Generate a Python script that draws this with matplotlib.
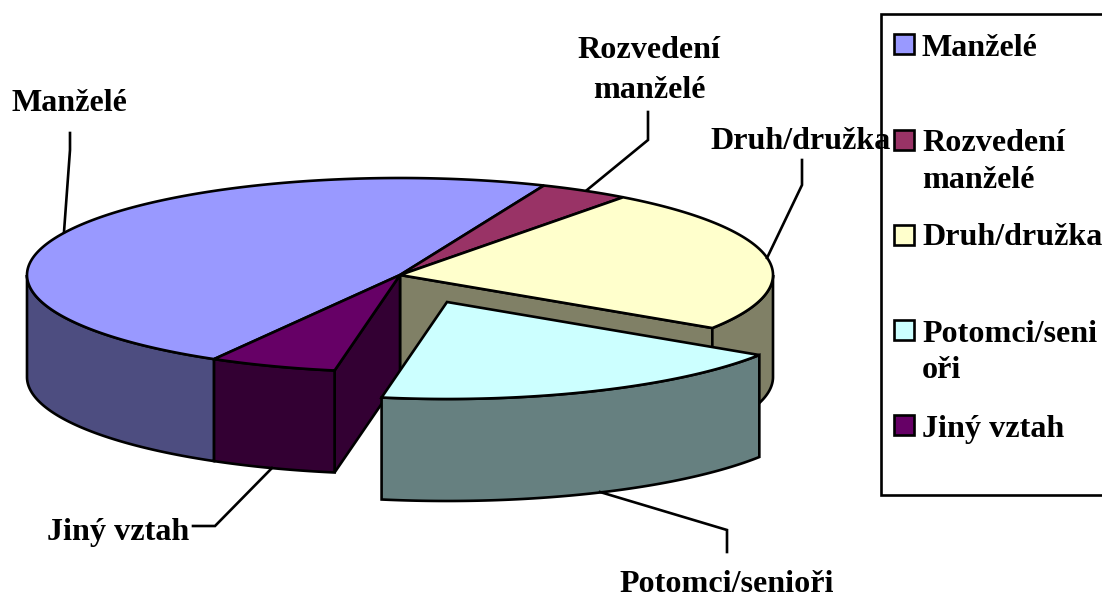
import numpy as np
import matplotlib
matplotlib.use('Agg')
import matplotlib.pyplot as plt

categories = ['Manželé', 'Rozvedení manželé', 'Druh/družka', 'Potomci/senioři', 'Jiný vztah']
shares = [48.0, 3.9, 24.0, 18.6, 5.5]
legend_lines = [['Manželé'], ['Rozvedení', 'manželé'], ['Druh/družka'], ['Potomci/seni', 'oři'], ['Jiný vztah']]
top_colors = ['#9999FF', '#993366', '#FFFFCC', '#CCFFFF', '#660066']
side_colors = ['#4D4D80', '#4D1A33', '#808066', '#668080', '#330033']

start_angle = 240.1
cx, cy = 400, 275
rx, ry = 373, 97
depth = 102
explode = (47, 27)
lw = 1.9

plt.rcParams['font.family'] = ['Liberation Serif', 'DejaVu Serif']
plt.rcParams['font.weight'] = 'bold'
plt.rcParams['font.size'] = 23.1


def arc(a1, a2, dx=0, dy=0):
    t = np.radians(np.linspace(a1, a2, 200))
    return cx + dx + rx * np.cos(t), cy + dy - ry * np.sin(t)


def draw_top(ax, a1, a2, color, dx=0, dy=0):
    x, y = arc(a1, a2, dx, dy)
    ax.fill(np.r_[cx + dx, x], np.r_[cy + dy, y], fc=color, ec='k', lw=lw, joinstyle='miter')


def draw_side(ax, a1, a2, color, dx=0, dy=0):
    x, y = arc(a1, a2, dx, dy)
    ax.fill(np.r_[x, x[::-1]], np.r_[y, y[::-1] + depth], fc=color, ec='k', lw=lw, joinstyle='miter')


def draw_cut(ax, a, color):
    x, y = arc(a, a)
    x, y = x[0], y[0]
    ax.fill([cx, x, x, cx], [cy, y, y + depth, cy + depth], fc=color, ec='k', lw=lw, joinstyle='miter')


# slice edges, going clockwise from the start angle
edges = start_angle - np.r_[0, np.cumsum(shares)] / sum(shares) * 360

fig, ax = plt.subplots(1, figsize=[11.02, 5.98], dpi=100)
ax.set_position([0, 0, 1, 1])
ax.set_xlim(0, 1102)
ax.set_ylim(598, 0)
ax.axis('off')

# leader lines sit under the pie
leaders = [
    ([64, 70, 70], [232, 150, 133]),
    ([587, 648, 648], [190, 140, 112]),
    ([767, 802, 802], [258, 185, 160]),
    ([600, 727, 727], [492, 530, 552]),
    ([272, 215, 193], [468, 526, 526]),
]
for lx, ly in leaders:
    ax.plot(lx, ly, 'k', lw=lw, solid_joinstyle='miter')

# back to front
draw_cut(ax, edges[3], side_colors[2])
draw_side(ax, 0, edges[3], side_colors[2])
draw_side(ax, 180, edges[0], side_colors[0])
draw_cut(ax, edges[4], side_colors[4])
draw_side(ax, edges[4], edges[5], side_colors[4])
for i in [0, 1, 2, 4]:
    draw_top(ax, edges[i], edges[i + 1], top_colors[i])

# exploded slice
draw_side(ax, edges[3], edges[4], side_colors[3], *explode)
draw_top(ax, edges[3], edges[4], top_colors[3], *explode)

# labels
ax.text(69, 111, categories[0], ha='center', va='baseline')
ax.text(649, 58, 'Rozvedení', ha='center', va='baseline')
ax.text(649, 98, 'manželé', ha='center', va='baseline')
ax.text(710, 149, categories[2], ha='left', va='baseline', zorder=5)
ax.text(727, 592, categories[3], ha='center', va='baseline')
ax.text(47, 540, categories[4], ha='left', va='baseline')

# legend box runs off the right side of the picture
ax.plot([1110, 881, 881, 1110], [14, 14, 495, 495], 'k', lw=lw, solid_joinstyle='miter')
swatch_y = [34, 130, 225, 320, 415]
baselines = [[56], [151, 188], [245], [342, 378], [437]]
for i in range(5):
    ax.fill([894, 914, 914, 894], np.array([0, 0, 20, 20]) + swatch_y[i], fc=top_colors[i], ec='k', lw=lw)
    for line, base in zip(legend_lines[i], baselines[i]):
        ax.text(922, base, line, ha='left', va='baseline')

plt.savefig('out.png', dpi=100)
plt.close(fig)
